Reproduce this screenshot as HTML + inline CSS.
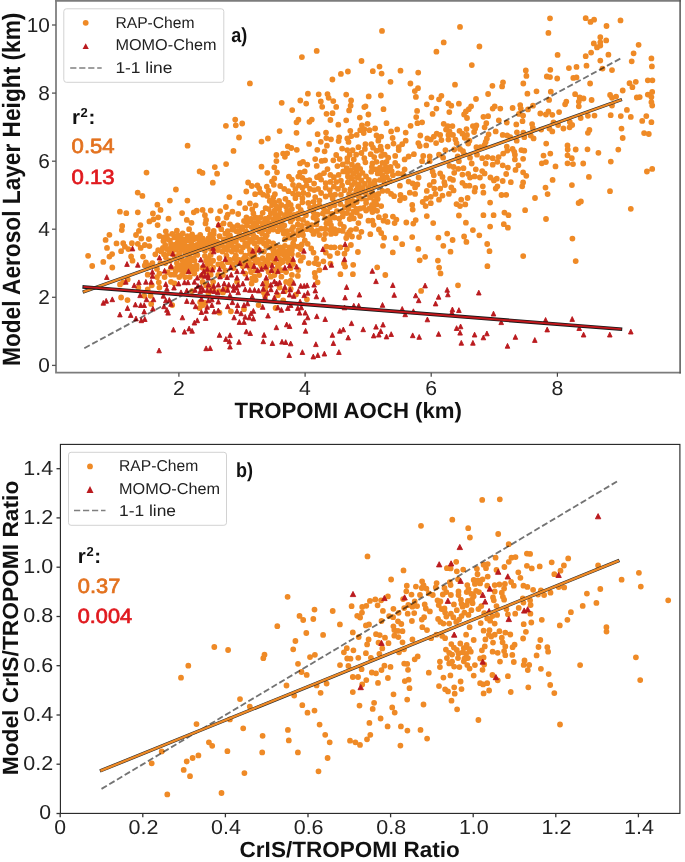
<!DOCTYPE html>
<html><head><meta charset="utf-8"><title>Scatter</title>
<style>html,body{margin:0;padding:0;background:#fff}svg{display:block;will-change:transform}text{text-rendering:geometricPrecision}text{font-family:"Liberation Sans",sans-serif}</style>
</head><body>
<svg width="685" height="862" viewBox="0 0 685 862">
<rect width="685" height="862" fill="#fff"/>
<g id="top">
<path d="M119.9 211.7h.01M126.3 213.2h.01M122.2 225.9h.01M121.8 230.1h.01M109.4 234.8h.01M105.6 239.9h.01M116.5 243.4h.01M123.2 243.2h.01M131.9 243.2h.01M124.9 246.7h.01M128.4 249.1h.01M107.0 247.9h.01M121.1 251.2h.01M112.1 254.1h.01M109.4 256.6h.01M88.1 255.8h.01M103.3 261.9h.01M131.1 256.4h.01M132.5 260.7h.01M92.2 266.0h.01M112.3 267.5h.01M157.4 204.7h.01M160.5 209.9h.01M137.8 212.3h.01M152.9 213.4h.01M158.2 217.3h.01M149.4 221.4h.01M153.5 219.3h.01M168.5 218.7h.01M182.1 213.1h.01M193.8 212.3h.01M196.7 210.7h.01M202.6 209.9h.01M210.7 210.5h.01M204.9 215.2h.01M186.8 219.9h.01M191.5 222.8h.01M206.1 219.9h.01M205.5 223.4h.01M140.4 225.1h.01M157.6 225.1h.01M138.9 230.9h.01M165.8 231.3h.01M176.9 230.6h.01M189.1 229.2h.01M207.8 229.2h.01M213.7 230.9h.01M159.4 236.0h.01M166.9 235.6h.01M172.2 233.9h.01M174.5 237.4h.01M182.7 233.3h.01M181.0 237.4h.01M187.4 236.2h.01M192.1 234.5h.01M200.2 234.8h.01M194.4 239.1h.01M196.7 237.4h.01M210.2 234.5h.01M213.7 233.9h.01M141.3 238.5h.01M148.8 239.1h.01M137.8 243.8h.01M144.8 245.0h.01M149.4 246.1h.01M140.7 247.9h.01M163.4 241.1h.01M169.9 240.3h.01M181.5 240.3h.01M188.6 240.3h.01M165.2 245.0h.01M171.0 243.8h.01M174.5 245.0h.01M181.0 245.5h.01M185.1 246.7h.01M191.5 243.8h.01M196.7 245.0h.01M201.4 243.8h.01M204.9 242.0h.01M210.7 240.3h.01M212.5 242.6h.01M207.2 246.7h.01M166.9 249.1h.01M175.7 249.6h.01M182.1 249.6h.01M187.4 250.2h.01M194.4 247.9h.01M199.6 249.1h.01M161.1 251.4h.01M155.3 254.3h.01M164.0 254.3h.01M169.3 253.1h.01M179.2 253.7h.01M185.1 253.1h.01M190.9 251.4h.01M143.0 256.6h.01M165.8 257.2h.01M174.5 256.1h.01M145.9 262.5h.01M152.4 263.1h.01M144.8 265.4h.01M160.5 263.1h.01M176.9 263.1h.01M182.7 260.7h.01M187.4 259.6h.01M189.7 261.9h.01M193.2 258.4h.01M197.3 254.9h.01M204.9 256.1h.01M208.4 258.4h.01M210.7 254.9h.01M176.9 267.7h.01M181.0 270.1h.01M184.5 266.6h.01M192.1 266.6h.01M196.7 268.9h.01M167.5 272.4h.01M174.5 274.7h.01M157.0 277.1h.01M164.6 277.1h.01M206.1 260.7h.01M210.7 263.1h.01M207.2 265.4h.01M213.1 267.7h.01M194.4 273.6h.01M201.4 275.9h.01M182.1 274.7h.01M210.7 274.7h.01M120.0 284.4h.01M123.2 282.3h.01M121.1 297.5h.01M127.5 300.1h.01M158.8 282.3h.01M159.4 287.6h.01M151.8 285.3h.01M138.3 287.6h.01M147.7 289.3h.01M171.0 281.8h.01M174.5 283.5h.01M144.2 295.8h.01M150.6 295.8h.01M151.2 303.9h.01M172.2 305.1h.01M200.2 302.2h.01M203.2 305.1h.01M199.6 308.0h.01M204.9 302.8h.01M192.1 291.1h.01M213.1 281.8h.01M210.7 287.0h.01M251.6 283.5h.01M266.2 281.8h.01M218.9 291.1h.01M265.1 288.8h.01M263.9 292.8h.01M277.9 295.2h.01M279.6 287.6h.01M289.6 283.5h.01M290.7 288.8h.01M230.9 311.3h.01M244.0 309.2h.01M258.6 305.1h.01M219.5 312.7h.01M275.6 308.0h.01M283.2 300.4h.01M237.0 281.8h.01M317.6 282.3h.01M306.9 299.3h.01M402.2 244.2h.01M487.2 244.0h.01M383.0 245.8h.01M392.8 252.4h.01M418.3 248.9h.01M443.3 245.8h.01M450.5 251.7h.01M489.5 251.2h.01M425.1 256.8h.01M419.7 260.3h.01M437.9 260.6h.01M523.2 256.1h.01M439.1 267.6h.01M487.4 266.2h.01M385.3 275.0h.01M440.5 273.4h.01M458.0 285.3h.01M421.1 290.9h.01M546.0 219.0h.01M572.4 238.6h.01M575.7 261.1h.01M590.5 21.9h.01M594.1 19.7h.01M620.5 20.4h.01M606.5 26.0h.01M600.3 37.2h.01M606.2 40.4h.01M593.8 43.4h.01M600.3 42.3h.01M600.3 45.5h.01M597.0 47.4h.01M638.6 44.8h.01M591.1 52.6h.01M608.4 54.7h.01M633.6 53.3h.01M600.3 60.6h.01M631.7 61.3h.01M651.4 58.4h.01M602.5 68.6h.01M612.0 70.1h.01M651.9 66.4h.01M590.1 83.5h.01M647.8 80.3h.01M652.4 80.3h.01M629.5 83.2h.01M635.8 81.8h.01M632.4 87.2h.01M622.7 90.5h.01M652.2 92.0h.01M647.8 94.6h.01M651.4 97.1h.01M610.1 94.9h.01M612.0 97.8h.01M616.1 96.6h.01M636.8 97.5h.01M639.7 97.1h.01M651.4 102.2h.01M652.2 105.5h.01M612.0 105.5h.01M626.9 109.9h.01M587.9 115.8h.01M594.5 115.6h.01M610.7 115.2h.01M620.8 116.1h.01M630.8 116.9h.01M646.3 116.1h.01M642.2 120.9h.01M651.4 122.2h.01M589.4 129.9h.01M587.9 132.8h.01M621.5 128.6h.01M644.1 133.1h.01M648.8 134.0h.01M622.7 138.0h.01M587.5 149.3h.01M598.4 152.8h.01M618.3 149.6h.01M610.8 161.6h.01M652.2 168.9h.01M646.9 171.5h.01M588.9 176.9h.01M610.0 191.2h.01M550.0 18.3h.01M548.4 32.9h.01M557.6 54.9h.01M525.8 70.4h.01M526.4 75.9h.01M550.3 69.8h.01M568.9 68.1h.01M576.5 66.9h.01M546.8 76.5h.01M550.0 77.1h.01M557.2 78.5h.01M573.3 77.9h.01M576.5 77.4h.01M523.3 83.5h.01M536.5 91.3h.01M527.4 93.7h.01M550.8 91.7h.01M549.1 99.9h.01M575.1 94.2h.01M579.7 97.5h.01M583.5 98.5h.01M566.3 101.6h.01M565.1 104.3h.01M578.8 101.6h.01M578.8 106.3h.01M520.2 105.1h.01M520.8 108.6h.01M512.6 108.0h.01M533.0 105.7h.01M528.0 109.4h.01M540.3 113.5h.01M548.4 111.5h.01M545.9 114.5h.01M552.3 114.8h.01M559.1 112.1h.01M519.0 113.9h.01M523.1 115.6h.01M522.5 121.2h.01M516.3 124.4h.01M506.8 122.6h.01M532.1 124.1h.01M532.8 127.9h.01M553.5 122.3h.01M558.1 125.0h.01M549.4 128.5h.01M552.3 131.4h.01M563.4 128.5h.01M541.2 129.6h.01M569.8 122.0h.01M572.2 125.0h.01M569.6 127.3h.01M580.7 118.0h.01M516.9 132.3h.01M523.3 132.6h.01M507.3 135.5h.01M510.3 137.2h.01M524.3 137.2h.01M530.7 135.5h.01M533.6 138.4h.01M516.7 140.7h.01M546.2 143.6h.01M567.5 145.4h.01M567.7 149.5h.01M575.7 149.5h.01M506.8 146.6h.01M507.3 150.7h.01M512.6 148.9h.01M514.3 151.8h.01M514.9 154.7h.01M521.4 150.1h.01M524.3 150.7h.01M543.5 155.6h.01M550.3 153.6h.01M567.5 155.3h.01M571.8 158.2h.01M507.9 167.6h.01M518.4 165.3h.01M515.5 169.9h.01M523.1 172.3h.01M526.3 175.8h.01M541.8 163.3h.01M545.9 162.1h.01M555.5 166.4h.01M567.5 163.3h.01M573.0 164.1h.01M583.2 163.5h.01M510.8 182.2h.01M523.1 182.5h.01M522.2 186.3h.01M552.6 179.9h.01M545.5 187.6h.01M571.9 185.1h.01M547.6 194.1h.01M535.0 198.0h.01M580.9 201.5h.01M578.6 203.0h.01M525.1 210.2h.01M508.5 215.2h.01M507.9 227.7h.01M460.0 26.9h.01M443.7 42.4h.01M436.4 51.7h.01M479.4 46.5h.01M471.8 65.1h.01M455.0 84.7h.01M492.4 85.8h.01M503.0 82.3h.01M502.1 86.4h.01M488.1 94.0h.01M431.4 97.3h.01M441.4 95.8h.01M439.0 99.3h.01M476.0 99.0h.01M426.8 104.3h.01M448.4 103.4h.01M451.3 105.7h.01M458.9 103.7h.01M471.1 106.3h.01M436.4 108.6h.01M432.6 113.9h.01M449.3 112.1h.01M468.8 109.2h.01M465.9 111.5h.01M464.1 114.5h.01M467.0 118.0h.01M494.7 106.3h.01M492.7 108.6h.01M500.3 108.6h.01M483.4 116.8h.01M488.1 116.2h.01M498.8 120.3h.01M486.3 123.2h.01M484.6 127.3h.01M443.7 123.8h.01M447.8 126.1h.01M452.4 126.1h.01M472.9 126.1h.01M476.4 125.5h.01M475.2 128.5h.01M466.5 129.1h.01M446.0 129.6h.01M449.5 131.4h.01M459.5 130.8h.01M462.4 133.7h.01M467.0 134.9h.01M464.7 137.8h.01M474.1 132.0h.01M495.7 131.4h.01M488.6 134.3h.01M502.7 134.9h.01M436.7 133.7h.01M440.2 134.9h.01M433.8 136.6h.01M427.3 138.4h.01M430.8 139.6h.01M441.4 140.1h.01M436.1 143.1h.01M448.4 134.9h.01M453.0 134.9h.01M448.4 139.6h.01M455.4 139.6h.01M456.5 143.1h.01M469.4 140.7h.01M468.2 143.6h.01M486.9 138.4h.01M485.7 141.9h.01M484.6 144.8h.01M476.4 147.2h.01M480.5 147.2h.01M445.4 150.1h.01M454.2 149.5h.01M460.0 148.9h.01M463.0 151.2h.01M429.7 156.5h.01M439.0 154.7h.01M443.1 157.7h.01M457.7 156.5h.01M464.1 154.2h.01M470.0 157.7h.01M477.0 154.7h.01M482.2 158.2h.01M487.5 157.1h.01M492.7 158.2h.01M498.6 157.1h.01M503.2 153.6h.01M471.7 163.5h.01M485.7 163.5h.01M492.7 164.7h.01M497.4 161.8h.01M502.7 165.3h.01M449.5 165.8h.01M453.6 167.0h.01M458.3 168.8h.01M463.5 168.2h.01M475.8 169.3h.01M482.2 171.1h.01M484.6 173.4h.01M432.6 171.7h.01M433.8 175.2h.01M440.2 173.4h.01M442.5 176.9h.01M454.2 172.8h.01M462.4 174.6h.01M468.2 174.0h.01M470.0 177.5h.01M474.6 176.4h.01M479.9 177.5h.01M490.4 177.5h.01M493.9 180.4h.01M496.8 178.7h.01M502.7 181.0h.01M450.1 178.7h.01M453.0 179.9h.01M433.8 181.6h.01M429.7 185.1h.01M444.3 182.2h.01M444.9 185.1h.01M462.4 182.8h.01M465.3 185.7h.01M469.4 185.7h.01M475.2 188.0h.01M474.6 191.5h.01M482.8 186.3h.01M483.4 192.7h.01M497.4 186.3h.01M495.7 188.6h.01M426.8 190.9h.01M434.3 188.6h.01M440.2 188.6h.01M451.3 187.4h.01M453.6 190.4h.01M448.9 193.9h.01M442.5 195.6h.01M435.5 193.9h.01M439.0 199.7h.01M430.8 196.8h.01M430.8 203.2h.01M501.5 195.0h.01M461.2 199.7h.01M467.6 198.0h.01M456.5 204.1h.01M460.0 206.1h.01M465.3 204.4h.01M490.1 202.6h.01M458.9 215.5h.01M426.8 216.1h.01M483.4 215.2h.01M493.6 215.2h.01M433.2 223.1h.01M465.9 222.7h.01M490.1 226.6h.01M472.9 230.1h.01M447.2 233.6h.01M479.3 235.3h.01M438.4 237.7h.01M464.1 236.5h.01M382.0 30.9h.01M361.5 61.0h.01M379.5 66.6h.01M347.9 71.5h.01M372.8 71.2h.01M381.6 73.6h.01M400.5 70.7h.01M418.2 72.6h.01M390.5 81.8h.01M410.4 83.5h.01M418.0 88.2h.01M414.8 91.1h.01M415.9 96.9h.01M368.7 96.4h.01M380.9 95.5h.01M351.1 100.4h.01M350.6 105.7h.01M349.1 110.4h.01M364.3 107.1h.01M383.5 109.2h.01M368.4 114.5h.01M359.8 117.6h.01M417.1 110.9h.01M416.2 117.1h.01M367.5 123.8h.01M361.9 125.5h.01M386.5 123.2h.01M417.4 123.2h.01M422.1 122.3h.01M410.6 125.8h.01M350.3 130.8h.01M360.2 130.2h.01M364.3 129.1h.01M369.5 130.2h.01M375.1 128.5h.01M391.1 131.4h.01M397.2 129.4h.01M405.7 132.6h.01M420.3 135.5h.01M363.7 133.1h.01M356.7 134.9h.01M351.4 136.1h.01M347.3 138.4h.01M348.5 141.9h.01M376.5 135.5h.01M381.2 136.6h.01M378.3 140.7h.01M392.6 138.0h.01M393.5 143.6h.01M405.7 140.7h.01M402.2 144.2h.01M398.7 147.2h.01M387.6 146.6h.01M418.3 143.1h.01M419.7 146.0h.01M365.4 144.2h.01M371.3 144.2h.01M358.4 147.2h.01M352.6 150.1h.01M347.3 150.1h.01M364.9 148.9h.01M373.0 147.7h.01M376.5 150.7h.01M380.6 146.6h.01M381.2 150.1h.01M370.7 154.2h.01M349.7 154.7h.01M356.1 154.7h.01M361.4 153.0h.01M374.2 157.1h.01M381.2 155.9h.01M384.7 154.7h.01M388.2 157.7h.01M395.2 155.9h.01M398.7 150.1h.01M413.9 154.2h.01M408.6 156.5h.01M423.2 155.9h.01M364.3 158.2h.01M347.3 158.2h.01M347.3 161.8h.01M352.0 164.7h.01M357.8 165.3h.01M365.4 162.3h.01M372.4 163.5h.01M376.5 161.8h.01M382.4 162.9h.01M386.5 161.8h.01M395.2 162.9h.01M397.6 165.8h.01M346.8 168.2h.01M350.3 170.5h.01M356.1 171.1h.01M362.5 172.8h.01M371.9 167.0h.01M375.9 169.3h.01M380.0 167.6h.01M385.9 167.0h.01M404.6 169.3h.01M377.7 173.4h.01M382.4 175.2h.01M387.0 171.7h.01M392.9 175.2h.01M398.1 173.4h.01M402.8 174.0h.01M347.9 176.4h.01M352.0 178.7h.01M357.3 177.5h.01M361.4 180.4h.01M368.9 179.9h.01M354.9 182.8h.01M364.9 183.9h.01M383.5 179.3h.01M390.0 181.0h.01M387.0 177.5h.01M408.6 181.6h.01M412.7 183.4h.01M417.4 184.5h.01M415.1 187.4h.01M399.9 185.7h.01M418.6 177.5h.01M350.3 189.2h.01M357.8 187.4h.01M362.5 188.0h.01M368.4 188.0h.01M374.8 185.1h.01M371.9 192.1h.01M382.4 190.9h.01M387.6 190.9h.01M391.1 193.9h.01M394.1 196.2h.01M349.1 193.9h.01M353.8 195.0h.01M409.8 192.7h.01M415.1 193.9h.01M400.5 195.0h.01M404.6 198.0h.01M399.9 200.3h.01M347.9 199.1h.01M352.6 200.9h.01M361.4 198.5h.01M366.0 200.3h.01M370.1 197.4h.01M374.2 200.9h.01M377.7 199.1h.01M371.9 205.0h.01M381.2 206.1h.01M369.5 208.5h.01M373.6 207.9h.01M377.1 210.8h.01M372.4 212.0h.01M353.2 205.0h.01M360.2 208.5h.01M363.7 207.9h.01M348.5 209.1h.01M412.2 205.0h.01M412.7 209.6h.01M422.7 202.0h.01M346.8 213.1h.01M351.4 214.9h.01M356.7 212.6h.01M360.2 216.1h.01M349.7 219.0h.01M353.8 218.4h.01M378.9 217.2h.01M385.3 216.1h.01M392.9 216.6h.01M396.4 219.6h.01M383.5 220.7h.01M387.6 221.9h.01M394.6 223.1h.01M368.4 220.7h.01M372.4 220.7h.01M373.6 224.8h.01M358.4 223.1h.01M406.3 222.5h.01M415.7 220.1h.01M413.3 223.6h.01M350.8 230.1h.01M356.1 228.9h.01M361.4 231.8h.01M347.3 234.7h.01M352.0 236.5h.01M359.0 237.1h.01M370.3 234.2h.01M378.9 229.5h.01M381.2 233.0h.01M384.1 237.7h.01M395.8 238.2h.01M412.2 237.1h.01M302.4 202.3h.01M308.3 202.9h.01M313.5 201.8h.01M347.4 202.3h.01M366.1 202.9h.01M298.3 206.4h.01M300.7 209.9h.01M310.0 207.6h.01M314.7 206.4h.01M319.4 205.3h.01M324.0 208.8h.01M329.9 207.0h.01M334.5 205.3h.01M340.4 204.1h.01M345.1 207.0h.01M356.7 208.8h.01M366.1 210.5h.01M297.8 214.0h.01M302.4 212.8h.01M305.9 215.2h.01M313.5 212.3h.01M317.6 214.6h.01M322.9 213.4h.01M327.5 211.7h.01M332.2 214.0h.01M336.9 211.1h.01M342.1 211.7h.01M298.3 218.7h.01M303.0 219.9h.01M313.5 217.5h.01M317.0 219.9h.01M325.2 218.1h.01M329.9 217.5h.01M334.5 217.5h.01M339.2 218.7h.01M342.7 216.4h.01M297.8 224.5h.01M301.8 225.7h.01M307.1 223.4h.01M311.8 225.1h.01M316.4 224.5h.01M326.4 223.4h.01M331.0 225.1h.01M329.9 221.6h.01M340.4 223.9h.01M343.9 226.9h.01M298.3 230.4h.01M302.4 230.9h.01M307.1 229.2h.01M311.8 230.4h.01M317.0 230.9h.01M321.1 228.6h.01M325.2 228.6h.01M329.9 229.8h.01M334.5 229.2h.01M338.6 230.4h.01M342.7 230.9h.01M349.1 232.1h.01M298.3 235.0h.01M303.0 235.0h.01M313.5 233.9h.01M319.4 235.0h.01M325.2 233.9h.01M331.0 233.9h.01M335.7 233.3h.01M346.2 238.0h.01M304.8 240.3h.01M324.0 239.1h.01M301.8 244.4h.01M307.7 243.8h.01M298.3 246.7h.01M300.7 249.1h.01M311.2 248.5h.01M326.4 246.7h.01M331.0 247.3h.01M334.5 247.3h.01M340.4 247.3h.01M350.9 245.0h.01M346.8 249.1h.01M313.5 252.6h.01M325.8 252.6h.01M329.9 256.1h.01M337.5 253.1h.01M344.5 253.7h.01M357.9 252.0h.01M298.3 254.9h.01M303.0 257.2h.01M300.7 260.7h.01M308.8 263.1h.01M316.4 258.4h.01M314.7 263.1h.01M323.4 261.3h.01M318.2 264.2h.01M330.5 263.6h.01M343.9 263.6h.01M345.1 266.6h.01M353.2 264.8h.01M319.4 270.1h.01M314.7 273.0h.01M315.3 277.1h.01M298.3 270.1h.01M297.8 275.9h.01M340.4 274.2h.01M352.9 274.2h.01M239.4 202.9h.01M225.9 207.0h.01M220.1 211.1h.01M249.9 203.5h.01M245.2 208.2h.01M255.7 205.3h.01M252.2 209.3h.01M232.4 211.7h.01M238.2 214.0h.01M227.7 214.6h.01M226.5 217.5h.01M217.8 218.7h.01M223.6 223.4h.01M230.0 224.5h.01M221.3 229.2h.01M219.5 236.2h.01M265.6 208.2h.01M262.7 212.8h.01M253.4 213.4h.01M255.7 217.5h.01M244.0 221.0h.01M274.4 202.6h.01M288.4 202.6h.01M272.1 205.0h.01M276.7 206.7h.01M281.4 205.0h.01M286.1 206.7h.01M290.7 205.0h.01M268.6 209.1h.01M274.4 210.7h.01M279.1 209.1h.01M287.2 210.7h.01M291.9 209.1h.01M270.9 213.2h.01M275.6 214.8h.01M280.2 213.2h.01M284.9 214.8h.01M289.6 213.2h.01M294.2 214.8h.01M246.4 217.3h.01M251.0 218.9h.01M260.4 217.3h.01M265.1 218.9h.01M269.1 217.3h.01M273.8 218.9h.01M278.5 217.3h.01M283.2 218.9h.01M287.8 217.3h.01M292.5 218.9h.01M248.7 221.4h.01M253.4 223.0h.01M258.0 221.4h.01M262.7 223.0h.01M267.4 221.4h.01M272.1 223.0h.01M276.7 221.4h.01M281.4 223.0h.01M290.7 221.4h.01M218.9 225.5h.01M233.5 227.1h.01M237.6 225.5h.01M242.3 227.1h.01M246.9 225.5h.01M251.6 227.1h.01M256.3 225.5h.01M261.0 227.1h.01M265.6 225.5h.01M270.3 227.1h.01M275.0 225.5h.01M279.6 227.1h.01M284.3 225.5h.01M293.1 227.1h.01M227.7 231.2h.01M232.4 229.5h.01M236.4 231.2h.01M241.1 229.5h.01M245.8 231.2h.01M254.5 229.5h.01M259.2 231.2h.01M263.9 229.5h.01M268.6 231.2h.01M273.2 229.5h.01M277.9 231.2h.01M282.6 229.5h.01M287.2 231.2h.01M291.9 229.5h.01M225.3 233.6h.01M230.0 235.3h.01M239.4 233.6h.01M244.0 235.3h.01M248.7 233.6h.01M253.4 235.3h.01M262.1 233.6h.01M266.8 235.3h.01M283.7 233.6h.01M288.4 235.3h.01M293.1 233.6h.01M223.6 239.4h.01M228.3 237.7h.01M232.9 239.4h.01M237.6 237.7h.01M242.3 239.4h.01M246.9 237.7h.01M251.6 239.4h.01M256.3 237.7h.01M261.0 239.4h.01M265.6 237.7h.01M284.9 239.4h.01M289.6 237.7h.01M294.2 239.4h.01M221.8 243.4h.01M226.5 241.8h.01M231.2 243.4h.01M235.9 241.8h.01M245.2 243.4h.01M249.9 241.8h.01M254.5 243.4h.01M259.2 241.8h.01M263.9 243.4h.01M268.6 241.8h.01M273.2 243.4h.01M293.1 243.4h.01M219.5 245.9h.01M224.2 247.5h.01M228.8 245.9h.01M233.5 247.5h.01M238.2 245.9h.01M242.9 247.5h.01M247.5 245.9h.01M256.9 247.5h.01M266.2 245.9h.01M270.9 247.5h.01M275.6 245.9h.01M280.2 247.5h.01M284.9 245.9h.01M289.6 247.5h.01M294.2 245.9h.01M217.8 250.0h.01M222.4 251.6h.01M227.1 250.0h.01M231.8 251.6h.01M236.4 250.0h.01M241.1 251.6h.01M249.9 250.0h.01M254.5 251.6h.01M259.2 250.0h.01M263.9 251.6h.01M273.2 250.0h.01M277.9 251.6h.01M282.6 250.0h.01M287.2 251.6h.01M291.9 250.0h.01M226.5 255.7h.01M235.9 255.7h.01M245.2 255.7h.01M249.9 254.1h.01M254.5 255.7h.01M268.6 255.7h.01M273.2 254.1h.01M277.9 255.7h.01M282.6 254.1h.01M287.2 255.7h.01M291.9 254.1h.01M219.5 258.2h.01M230.0 259.8h.01M234.7 258.2h.01M239.4 259.8h.01M244.0 258.2h.01M248.7 259.8h.01M253.4 258.2h.01M258.0 259.8h.01M262.7 258.2h.01M267.4 259.8h.01M272.1 258.2h.01M280.8 259.8h.01M285.5 258.2h.01M290.2 259.8h.01M221.8 263.9h.01M227.7 262.2h.01M232.4 263.9h.01M237.0 262.2h.01M241.7 263.9h.01M246.4 262.2h.01M251.0 263.9h.01M255.7 262.2h.01M260.4 263.9h.01M265.1 262.2h.01M269.7 263.9h.01M274.4 262.2h.01M279.6 263.9h.01M288.4 262.2h.01M293.1 263.9h.01M223.0 266.3h.01M233.5 268.0h.01M242.9 266.3h.01M249.9 268.0h.01M261.5 266.3h.01M266.2 268.0h.01M277.9 266.3h.01M290.7 268.0h.01M225.3 270.4h.01M251.0 272.1h.01M255.7 270.4h.01M268.6 272.1h.01M274.4 270.4h.01M286.1 272.1h.01M223.0 275.1h.01M254.5 276.7h.01M259.2 275.1h.01M270.9 276.7h.01M274.4 275.1h.01M281.4 276.7h.01M296.5 122.3h.01M309.4 121.8h.01M338.3 124.7h.01M279.6 131.1h.01M296.5 132.8h.01M267.9 138.5h.01M317.6 134.2h.01M326.0 132.6h.01M326.3 138.1h.01M331.0 139.3h.01M320.8 141.8h.01M309.1 143.9h.01M339.2 137.5h.01M338.6 141.0h.01M287.8 146.3h.01M291.3 148.0h.01M296.8 149.8h.01M326.9 145.7h.01M317.3 149.8h.01M324.6 151.3h.01M283.1 153.6h.01M287.2 153.3h.01M284.9 156.8h.01M276.4 155.0h.01M276.4 161.1h.01M342.1 148.6h.01M336.2 155.0h.01M333.3 160.3h.01M339.7 159.1h.01M315.2 159.1h.01M321.6 160.9h.01M325.1 160.3h.01M300.0 163.4h.01M303.0 161.8h.01M307.3 164.6h.01M316.7 165.9h.01M337.4 166.1h.01M342.7 164.4h.01M274.3 167.3h.01M267.3 172.8h.01M277.0 172.3h.01M300.0 172.6h.01M304.7 171.4h.01M327.5 169.1h.01M324.0 173.1h.01M319.9 175.5h.01M330.4 174.9h.01M333.9 177.2h.01M338.6 174.9h.01M343.2 171.4h.01M288.9 176.6h.01M291.9 179.6h.01M298.3 176.6h.01M302.4 177.8h.01M305.9 180.7h.01M309.4 180.1h.01M317.0 177.2h.01M314.1 183.6h.01M321.1 179.6h.01M325.7 183.1h.01M330.4 181.9h.01M336.2 181.9h.01M340.9 180.7h.01M274.3 178.4h.01M272.0 181.3h.01M273.8 184.8h.01M266.8 186.6h.01M268.5 190.7h.01M280.2 186.0h.01M284.3 188.9h.01M288.4 191.2h.01M293.0 184.8h.01M295.4 188.9h.01M298.9 185.4h.01M302.4 187.7h.01M306.5 185.4h.01M310.0 188.9h.01M293.0 193.6h.01M298.3 194.2h.01M303.5 193.0h.01M308.2 194.7h.01M314.1 190.1h.01M318.1 188.9h.01M321.1 193.0h.01M325.7 187.7h.01M329.8 190.1h.01M333.9 186.6h.01M338.0 188.9h.01M342.1 185.4h.01M274.9 194.2h.01M273.2 197.7h.01M267.3 195.9h.01M295.4 198.2h.01M302.4 198.2h.01M315.2 197.1h.01M325.7 196.5h.01M330.4 194.7h.01M335.1 194.7h.01M340.9 194.7h.01M242.2 123.5h.01M235.8 125.3h.01M225.9 125.8h.01M239.0 137.5h.01M261.5 141.6h.01M187.6 145.7h.01M233.5 150.9h.01M226.1 164.1h.01M214.8 167.1h.01M199.6 171.4h.01M202.5 172.9h.01M217.1 173.7h.01M261.5 166.7h.01M212.8 182.7h.01M248.1 182.5h.01M251.8 186.0h.01M257.4 185.4h.01M259.2 188.3h.01M246.3 191.5h.01M255.1 194.2h.01M260.3 192.4h.01M263.2 194.7h.01M229.4 197.1h.01M146.5 172.6h.01M137.7 192.6h.01M142.4 195.9h.01M175.9 189.5h.01M316.7 50.9h.01M301.9 57.1h.01M340.9 73.9h.01M332.4 79.5h.01M307.9 93.7h.01M318.7 94.3h.01M327.5 94.1h.01M328.6 97.8h.01M300.3 100.5h.01M281.7 102.8h.01M306.2 103.6h.01M320.8 101.5h.01M333.3 101.1h.01M322.2 106.8h.01M336.2 106.9h.01M292.2 110.1h.01M326.5 113.8h.01M332.5 113.2h.01M249.9 83.4h.01M235.2 119.6h.01M218.3 264.3h.01M218.3 274.9h.01M252.2 278.4h.01M255.7 280.1h.01M267.4 285.4h.01M281.4 270.2h.01M291.9 274.9h.01M290.7 280.7h.01M286.1 281.9h.01M284.9 291.2h.01M265.1 295.9h.01M223.0 292.4h.01M226.5 288.9h.01M282.6 262.0h.01M245.2 273.7h.01M206.1 285.4h.01M202.6 281.9h.01M208.4 293.5h.01M213.1 290.0h.01M163.4 237.4h.01M167.5 239.1h.01M177.5 235.0h.01M178.6 238.5h.01M185.1 239.7h.01M184.5 243.2h.01M177.5 242.6h.01M171.0 246.7h.01M178.0 247.9h.01M190.9 238.5h.01M199.1 239.7h.01M202.6 238.5h.01M199.6 246.1h.01M204.3 246.7h.01M208.4 238.5h.01M208.4 243.2h.01M213.1 238.5h.01M214.2 246.7h.01M210.7 249.1h.01M204.9 250.8h.01M192.1 249.1h.01M188.6 246.7h.01M172.2 251.4h.01M162.9 247.9h.01M158.2 250.2h.01M194.4 252.6h.01M180.4 258.4h.01M185.1 263.1h.01M189.7 257.2h.01M194.4 260.7h.01M196.7 265.4h.01M188.6 266.6h.01M181.5 265.4h.01M186.2 271.2h.01M192.1 271.2h.01M175.7 271.2h.01M171.0 274.7h.01M179.2 277.1h.01M210.7 270.1h.01M206.1 271.2h.01M202.6 267.7h.01M213.1 260.7h.01M169.9 260.7h.01M165.2 263.1h.01M171.0 267.7h.01M150.0 265.4h.01M157.0 268.9h.01M159.4 273.6h.01M147.7 274.7h.01M185.1 277.1h.01M189.7 277.1h.01M354.9 168.2h.01M347.3 172.3h.01M360.2 168.8h.01M353.2 174.0h.01M359.0 175.2h.01M366.0 176.4h.01M371.3 171.7h.01M380.0 171.7h.01M384.1 169.3h.01M390.5 167.0h.01M391.7 171.1h.01M384.7 183.4h.01M380.0 179.9h.01M374.8 181.0h.01M370.7 183.9h.01M359.0 184.5h.01M352.0 185.1h.01M347.9 182.2h.01M356.1 190.4h.01M361.4 192.1h.01M366.0 193.9h.01M374.2 195.0h.01M378.3 193.9h.01M358.4 196.2h.01M356.7 202.0h.01M350.3 205.0h.01M376.5 204.4h.01M353.8 211.4h.01M136.0 235.0h.01M169.9 200.6h.01M187.4 200.6h.01M296.0 294.6h.01M452.6 240.0h.01M466.4 241.9h.01M377.2 267.3h.01M585.7 18.2h.01M585.7 56.2h.01M586.5 65.7h.01M591.6 100.0h.01M630.8 208.8h.01M514.9 159.4h.01M523.1 158.8h.01M506.2 174.0h.01M506.2 194.8h.01M426.2 145.4h.01M429.7 161.2h.01M458.9 161.2h.01M426.2 198.5h.01M425.6 206.1h.01M504.4 212.6h.01M503.8 224.2h.01M346.2 94.6h.01M346.2 120.3h.01M404.6 159.4h.01M353.8 159.4h.01M422.1 161.2h.01M319.4 200.6h.01M269.7 200.9h.01M279.1 200.9h.01M217.2 241.8h.01M330.4 120.0h.01M344.4 190.1h.01M285.4 198.8h.01M332.7 198.8h.01M127.7 279.4h.01M298.4 119.7h.01M311.8 119.6h.01M365.5 106.3h.01" stroke="#ef8a26" stroke-width="5.8" stroke-linecap="round" fill="none"/>
<path d="M132.5 246.1l2.30 4.80h-4.60zM127.0 261.6l2.30 4.80h-4.60zM106.8 274.7l2.30 4.80h-4.60zM172.8 251.3l2.30 4.80h-4.60zM159.4 255.2l2.30 4.80h-4.60zM137.8 262.4l2.30 4.80h-4.60zM171.0 263.6l2.30 4.80h-4.60zM164.6 268.3l2.30 4.80h-4.60zM152.4 269.4l2.30 4.80h-4.60zM152.4 273.5l2.30 4.80h-4.60zM188.6 268.8l2.30 4.80h-4.60zM200.8 257.2l2.30 4.80h-4.60zM203.2 262.4l2.30 4.80h-4.60zM213.7 249.0l2.30 4.80h-4.60zM213.1 245.5l2.30 4.80h-4.60zM203.7 268.8l2.30 4.80h-4.60zM207.2 266.5l2.30 4.80h-4.60zM201.4 272.3l2.30 4.80h-4.60zM197.3 275.3l2.30 4.80h-4.60zM204.9 273.5l2.30 4.80h-4.60zM208.4 275.3l2.30 4.80h-4.60zM125.8 279.4l2.30 4.80h-4.60zM134.2 282.9l2.30 4.80h-4.60zM103.3 300.4l2.30 4.80h-4.60zM106.2 298.4l2.30 4.80h-4.60zM112.3 296.9l2.30 4.80h-4.60zM127.5 305.6l2.30 4.80h-4.60zM119.9 312.1l2.30 4.80h-4.60zM130.7 312.6l2.30 4.80h-4.60zM138.9 279.9l2.30 4.80h-4.60zM145.9 279.4l2.30 4.80h-4.60zM151.2 279.4l2.30 4.80h-4.60zM165.8 281.7l2.30 4.80h-4.60zM166.9 286.4l2.30 4.80h-4.60zM174.0 285.2l2.30 4.80h-4.60zM178.6 281.1l2.30 4.80h-4.60zM184.5 279.9l2.30 4.80h-4.60zM188.0 279.9l2.30 4.80h-4.60zM194.4 279.4l2.30 4.80h-4.60zM186.8 288.1l2.30 4.80h-4.60zM181.0 289.9l2.30 4.80h-4.60zM195.0 287.5l2.30 4.80h-4.60zM200.2 288.7l2.30 4.80h-4.60zM201.4 284.6l2.30 4.80h-4.60zM208.4 282.3l2.30 4.80h-4.60zM210.7 288.1l2.30 4.80h-4.60zM214.2 288.7l2.30 4.80h-4.60zM140.1 292.8l2.30 4.80h-4.60zM146.5 296.9l2.30 4.80h-4.60zM153.5 296.9l2.30 4.80h-4.60zM163.4 293.4l2.30 4.80h-4.60zM165.8 298.0l2.30 4.80h-4.60zM169.3 297.5l2.30 4.80h-4.60zM140.7 302.7l2.30 4.80h-4.60zM144.2 302.7l2.30 4.80h-4.60zM171.0 301.5l2.30 4.80h-4.60zM152.9 306.2l2.30 4.80h-4.60zM144.2 309.1l2.30 4.80h-4.60zM164.0 303.9l2.30 4.80h-4.60zM166.9 307.4l2.30 4.80h-4.60zM168.1 310.3l2.30 4.80h-4.60zM186.8 298.6l2.30 4.80h-4.60zM192.6 299.2l2.30 4.80h-4.60zM195.6 303.9l2.30 4.80h-4.60zM208.4 298.0l2.30 4.80h-4.60zM211.9 302.7l2.30 4.80h-4.60zM207.2 304.5l2.30 4.80h-4.60zM206.1 308.5l2.30 4.80h-4.60zM201.4 309.7l2.30 4.80h-4.60zM214.2 309.1l2.30 4.80h-4.60zM141.3 317.9l2.30 4.80h-4.60zM144.8 316.7l2.30 4.80h-4.60zM182.4 315.0l2.30 4.80h-4.60zM205.7 315.6l2.30 4.80h-4.60zM197.3 317.9l2.30 4.80h-4.60zM194.4 320.2l2.30 4.80h-4.60zM173.4 327.2l2.30 4.80h-4.60zM184.5 329.3l2.30 4.80h-4.60zM189.1 326.1l2.30 4.80h-4.60zM192.1 328.4l2.30 4.80h-4.60zM159.1 348.0l2.30 4.80h-4.60zM206.1 345.9l2.30 4.80h-4.60zM210.2 345.7l2.30 4.80h-4.60zM218.3 282.3l2.30 4.80h-4.60zM224.2 281.1l2.30 4.80h-4.60zM228.8 282.3l2.30 4.80h-4.60zM233.5 283.4l2.30 4.80h-4.60zM238.2 282.3l2.30 4.80h-4.60zM242.9 281.1l2.30 4.80h-4.60zM223.0 286.4l2.30 4.80h-4.60zM227.7 287.5l2.30 4.80h-4.60zM233.5 287.5l2.30 4.80h-4.60zM238.2 289.9l2.30 4.80h-4.60zM245.2 286.9l2.30 4.80h-4.60zM249.9 287.5l2.30 4.80h-4.60zM254.5 287.5l2.30 4.80h-4.60zM258.6 288.1l2.30 4.80h-4.60zM262.7 281.1l2.30 4.80h-4.60zM263.3 286.4l2.30 4.80h-4.60zM270.9 282.3l2.30 4.80h-4.60zM276.7 281.1l2.30 4.80h-4.60zM279.6 279.9l2.30 4.80h-4.60zM284.9 284.6l2.30 4.80h-4.60zM293.7 280.5l2.30 4.80h-4.60zM270.9 286.9l2.30 4.80h-4.60zM276.7 289.3l2.30 4.80h-4.60zM267.4 290.4l2.30 4.80h-4.60zM283.2 288.7l2.30 4.80h-4.60zM289.6 292.2l2.30 4.80h-4.60zM274.4 295.1l2.30 4.80h-4.60zM230.0 292.8l2.30 4.80h-4.60zM252.2 294.0l2.30 4.80h-4.60zM218.3 299.2l2.30 4.80h-4.60zM227.7 303.9l2.30 4.80h-4.60zM232.4 299.8l2.30 4.80h-4.60zM237.6 302.7l2.30 4.80h-4.60zM244.0 302.7l2.30 4.80h-4.60zM247.5 301.0l2.30 4.80h-4.60zM262.7 304.5l2.30 4.80h-4.60zM218.3 308.0l2.30 4.80h-4.60zM237.0 308.5l2.30 4.80h-4.60zM241.1 310.9l2.30 4.80h-4.60zM234.1 315.0l2.30 4.80h-4.60zM239.4 319.6l2.30 4.80h-4.60zM244.0 319.6l2.30 4.80h-4.60zM245.2 314.4l2.30 4.80h-4.60zM251.0 310.9l2.30 4.80h-4.60zM253.4 308.5l2.30 4.80h-4.60zM253.4 316.1l2.30 4.80h-4.60zM249.3 315.0l2.30 4.80h-4.60zM268.0 313.2l2.30 4.80h-4.60zM277.9 305.0l2.30 4.80h-4.60zM281.4 307.4l2.30 4.80h-4.60zM287.8 305.6l2.30 4.80h-4.60zM290.7 302.7l2.30 4.80h-4.60zM276.4 324.9l2.30 4.80h-4.60zM286.7 322.0l2.30 4.80h-4.60zM289.6 323.7l2.30 4.80h-4.60zM246.4 329.0l2.30 4.80h-4.60zM250.2 330.7l2.30 4.80h-4.60zM219.5 332.5l2.30 4.80h-4.60zM230.0 332.8l2.30 4.80h-4.60zM225.9 336.6l2.30 4.80h-4.60zM229.4 338.9l2.30 4.80h-4.60zM230.0 344.2l2.30 4.80h-4.60zM239.0 339.5l2.30 4.80h-4.60zM264.1 332.5l2.30 4.80h-4.60zM263.3 338.9l2.30 4.80h-4.60zM272.4 340.7l2.30 4.80h-4.60zM282.0 339.3l2.30 4.80h-4.60zM285.7 339.7l2.30 4.80h-4.60zM290.7 341.0l2.30 4.80h-4.60zM289.2 352.7l2.30 4.80h-4.60zM300.7 283.4l2.30 4.80h-4.60zM304.2 283.4l2.30 4.80h-4.60zM307.1 282.9l2.30 4.80h-4.60zM314.1 282.3l2.30 4.80h-4.60zM298.3 288.7l2.30 4.80h-4.60zM307.7 290.4l2.30 4.80h-4.60zM315.3 288.1l2.30 4.80h-4.60zM304.2 292.8l2.30 4.80h-4.60zM316.4 294.0l2.30 4.80h-4.60zM323.4 296.9l2.30 4.80h-4.60zM300.1 299.2l2.30 4.80h-4.60zM346.6 284.6l2.30 4.80h-4.60zM359.4 292.2l2.30 4.80h-4.60zM345.1 295.1l2.30 4.80h-4.60zM344.5 305.0l2.30 4.80h-4.60zM353.8 303.3l2.30 4.80h-4.60zM358.7 303.3l2.30 4.80h-4.60zM297.8 305.6l2.30 4.80h-4.60zM301.3 305.0l2.30 4.80h-4.60zM299.5 310.3l2.30 4.80h-4.60zM305.3 310.3l2.30 4.80h-4.60zM307.7 315.0l2.30 4.80h-4.60zM316.8 313.8l2.30 4.80h-4.60zM325.2 316.7l2.30 4.80h-4.60zM304.4 319.6l2.30 4.80h-4.60zM351.5 320.8l2.30 4.80h-4.60zM305.6 328.4l2.30 4.80h-4.60zM339.8 328.4l2.30 4.80h-4.60zM343.3 327.0l2.30 4.80h-4.60zM363.2 326.9l2.30 4.80h-4.60zM373.7 333.1l2.30 4.80h-4.60zM332.4 332.5l2.30 4.80h-4.60zM348.2 335.1l2.30 4.80h-4.60zM333.4 340.7l2.30 4.80h-4.60zM315.9 341.8l2.30 4.80h-4.60zM302.4 349.7l2.30 4.80h-4.60zM313.3 354.1l2.30 4.80h-4.60zM317.8 352.7l2.30 4.80h-4.60zM324.4 351.2l2.30 4.80h-4.60zM338.9 349.7l2.30 4.80h-4.60zM392.8 282.7l2.30 4.80h-4.60zM425.1 283.1l2.30 4.80h-4.60zM394.2 292.5l2.30 4.80h-4.60zM415.7 293.0l2.30 4.80h-4.60zM418.7 297.9l2.30 4.80h-4.60zM447.2 287.4l2.30 4.80h-4.60zM447.9 292.0l2.30 4.80h-4.60zM438.6 294.4l2.30 4.80h-4.60zM435.6 301.1l2.30 4.80h-4.60zM478.8 290.2l2.30 4.80h-4.60zM382.5 302.5l2.30 4.80h-4.60zM402.2 306.5l2.30 4.80h-4.60zM405.2 311.9l2.30 4.80h-4.60zM413.4 308.8l2.30 4.80h-4.60zM427.4 317.0l2.30 4.80h-4.60zM452.4 307.0l2.30 4.80h-4.60zM458.9 307.7l2.30 4.80h-4.60zM451.9 310.0l2.30 4.80h-4.60zM493.5 311.2l2.30 4.80h-4.60zM501.2 319.8l2.30 4.80h-4.60zM383.0 322.2l2.30 4.80h-4.60zM380.7 328.7l2.30 4.80h-4.60zM378.8 332.2l2.30 4.80h-4.60zM386.5 334.1l2.30 4.80h-4.60zM391.2 331.7l2.30 4.80h-4.60zM412.7 332.9l2.30 4.80h-4.60zM419.2 334.5l2.30 4.80h-4.60zM438.6 331.5l2.30 4.80h-4.60zM456.6 325.7l2.30 4.80h-4.60zM460.6 324.0l2.30 4.80h-4.60zM460.1 330.3l2.30 4.80h-4.60zM461.3 340.4l2.30 4.80h-4.60zM474.6 332.2l2.30 4.80h-4.60zM472.9 340.4l2.30 4.80h-4.60zM486.9 331.0l2.30 4.80h-4.60zM483.4 335.0l2.30 4.80h-4.60zM507.5 343.4l2.30 4.80h-4.60zM515.4 334.5l2.30 4.80h-4.60zM545.6 317.5l2.30 4.80h-4.60zM572.2 316.6l2.30 4.80h-4.60zM547.2 327.1l2.30 4.80h-4.60zM579.2 325.7l2.30 4.80h-4.60zM583.6 332.2l2.30 4.80h-4.60zM609.8 332.2l2.30 4.80h-4.60zM630.8 329.2l2.30 4.80h-4.60zM534.8 337.6l2.30 4.80h-4.60zM303.9 248.4l2.30 4.80h-4.60zM322.9 246.7l2.30 4.80h-4.60zM345.1 241.7l2.30 4.80h-4.60zM344.5 256.8l2.30 4.80h-4.60zM331.4 262.4l2.30 4.80h-4.60zM325.2 264.8l2.30 4.80h-4.60zM372.3 268.5l2.30 4.80h-4.60zM218.3 222.1l2.30 4.80h-4.60zM225.3 256.6l2.30 4.80h-4.60zM239.9 260.7l2.30 4.80h-4.60zM230.6 264.8l2.30 4.80h-4.60zM219.5 266.5l2.30 4.80h-4.60zM246.9 263.0l2.30 4.80h-4.60zM237.0 268.8l2.30 4.80h-4.60zM242.9 268.8l2.30 4.80h-4.60zM231.2 272.3l2.30 4.80h-4.60zM220.1 274.1l2.30 4.80h-4.60zM227.1 274.7l2.30 4.80h-4.60zM237.0 275.3l2.30 4.80h-4.60zM246.9 275.3l2.30 4.80h-4.60zM252.8 248.4l2.30 4.80h-4.60zM259.4 247.2l2.30 4.80h-4.60zM254.0 263.6l2.30 4.80h-4.60zM257.5 267.7l2.30 4.80h-4.60zM261.5 266.5l2.30 4.80h-4.60zM265.6 264.2l2.30 4.80h-4.60zM272.1 263.0l2.30 4.80h-4.60zM271.5 267.7l2.30 4.80h-4.60zM276.1 256.0l2.30 4.80h-4.60zM277.9 268.8l2.30 4.80h-4.60zM284.9 265.3l2.30 4.80h-4.60zM289.6 263.0l2.30 4.80h-4.60zM293.1 256.6l2.30 4.80h-4.60zM266.2 275.3l2.30 4.80h-4.60zM274.4 278.9l2.30 4.80h-4.60zM236.4 285.3l2.30 4.80h-4.60zM217.8 290.0l2.30 4.80h-4.60zM290.2 287.1l2.30 4.80h-4.60zM293.7 293.5l2.30 4.80h-4.60zM265.1 294.6l2.30 4.80h-4.60zM207.8 272.5l2.30 4.80h-4.60zM212.5 267.2l2.30 4.80h-4.60zM213.7 283.5l2.30 4.80h-4.60zM203.2 287.6l2.30 4.80h-4.60zM207.2 287.6l2.30 4.80h-4.60zM197.9 283.5l2.30 4.80h-4.60zM211.9 297.0l2.30 4.80h-4.60zM201.4 296.4l2.30 4.80h-4.60zM135.4 302.1l2.30 4.80h-4.60zM136.0 316.1l2.30 4.80h-4.60zM376.0 324.3l2.30 4.80h-4.60zM376.0 278.8l2.30 4.80h-4.60zM296.6 264.2l2.30 4.80h-4.60z" fill="#ba1a1e" stroke="#ba1a1e" stroke-width="0.9" stroke-linejoin="round"/>
<line x1="84.3" y1="348.2" x2="620.4" y2="58.6" stroke="#000" stroke-opacity="0.55" stroke-width="1.85" stroke-dasharray="6.2 2.8"/>
<line x1="84.3" y1="291.6" x2="620.4" y2="100.1" stroke="#2b2b2b" stroke-width="3.3" stroke-linecap="square"/>
<line x1="84.3" y1="291.6" x2="620.4" y2="100.1" stroke="#ef8a26" stroke-width="2.1" stroke-linecap="square"/>
<line x1="84.3" y1="287.0" x2="620.4" y2="329.1" stroke="#1a1a1a" stroke-width="3.7" stroke-linecap="square"/>
<line x1="84.3" y1="287.0" x2="620.4" y2="329.1" stroke="#c4171c" stroke-width="1.9" stroke-linecap="square"/>
<path d="M56.0 0.0V372.7H680.9" fill="none" stroke="#7c7c7c" stroke-width="1.75" stroke-linejoin="miter"/>
<path d="M55.1 0.9H680.9" fill="none" stroke="#7c7c7c" stroke-width="1.8"/>
<path d="M680.1 0V373.6" fill="none" stroke="#555" stroke-width="1.5"/>
<line x1="178.9" y1="372.7" x2="178.9" y2="376.7" stroke="#444" stroke-width="1.2"/>
<text x="172.9" y="394.8" font-size="20.2" textLength="11.8" lengthAdjust="spacingAndGlyphs" fill="#222">2</text>
<line x1="305.1" y1="372.7" x2="305.1" y2="376.7" stroke="#444" stroke-width="1.2"/>
<text x="299.1" y="394.8" font-size="20.2" textLength="11.8" lengthAdjust="spacingAndGlyphs" fill="#222">4</text>
<line x1="431.2" y1="372.7" x2="431.2" y2="376.7" stroke="#444" stroke-width="1.2"/>
<text x="425.2" y="394.8" font-size="20.2" textLength="11.8" lengthAdjust="spacingAndGlyphs" fill="#222">6</text>
<line x1="557.4" y1="372.7" x2="557.4" y2="376.7" stroke="#444" stroke-width="1.2"/>
<text x="551.4" y="394.8" font-size="20.2" textLength="11.8" lengthAdjust="spacingAndGlyphs" fill="#222">8</text>
<line x1="52.0" y1="365.4" x2="56.0" y2="365.4" stroke="#555" stroke-width="1.3"/>
<text x="38.3" y="372.3" font-size="20.2" textLength="11.6" lengthAdjust="spacingAndGlyphs" fill="#222">0</text>
<line x1="52.0" y1="297.3" x2="56.0" y2="297.3" stroke="#555" stroke-width="1.3"/>
<text x="38.3" y="304.2" font-size="20.2" textLength="11.6" lengthAdjust="spacingAndGlyphs" fill="#222">2</text>
<line x1="52.0" y1="229.2" x2="56.0" y2="229.2" stroke="#555" stroke-width="1.3"/>
<text x="38.3" y="236.1" font-size="20.2" textLength="11.6" lengthAdjust="spacingAndGlyphs" fill="#222">4</text>
<line x1="52.0" y1="161.2" x2="56.0" y2="161.2" stroke="#555" stroke-width="1.3"/>
<text x="38.3" y="168.1" font-size="20.2" textLength="11.6" lengthAdjust="spacingAndGlyphs" fill="#222">6</text>
<line x1="52.0" y1="93.1" x2="56.0" y2="93.1" stroke="#555" stroke-width="1.3"/>
<text x="38.3" y="100.0" font-size="20.2" textLength="11.6" lengthAdjust="spacingAndGlyphs" fill="#222">8</text>
<line x1="52.0" y1="25.0" x2="56.0" y2="25.0" stroke="#555" stroke-width="1.3"/>
<text x="26.7" y="31.9" font-size="20.2" textLength="23.2" lengthAdjust="spacingAndGlyphs" fill="#222">10</text>
<text transform="translate(20.3,366) rotate(-90)" font-size="25" font-weight="bold" textLength="353.4" lengthAdjust="spacingAndGlyphs" fill="#111">Model Aerosol Layer Height (km)</text>
<text x="234.6" y="417.7" font-size="22" font-weight="bold" textLength="227.4" lengthAdjust="spacingAndGlyphs" fill="#111">TROPOMI AOCH (km)</text>
<rect x="63.8" y="8.8" width="160" height="73.5" rx="2.6" fill="#fff" fill-opacity="0.8" stroke="#d2d2d2" stroke-width="1"/>
<circle cx="85.7" cy="22.8" r="2.9" fill="#ef8a26"/>
<path d="M85.7 43.2l3.1 5.8h-6.2z" fill="#ba1a1e"/>
<line x1="70.2" y1="68" x2="101.7" y2="68" stroke="#000" stroke-opacity="0.5" stroke-width="1.6" stroke-dasharray="6.2 2.8"/>
<text x="115.4" y="27.7" font-size="15.8" textLength="79.2" lengthAdjust="spacingAndGlyphs" fill="#222">RAP-Chem</text>
<text x="115.4" y="50.2" font-size="15.8" textLength="101.1" lengthAdjust="spacingAndGlyphs" fill="#222">MOMO-Chem</text>
<text x="115.4" y="73" font-size="15.8" textLength="57" lengthAdjust="spacingAndGlyphs" fill="#222">1-1 line</text>
<text x="231.3" y="41.9" font-size="20.5" font-weight="bold" textLength="16" lengthAdjust="spacingAndGlyphs" fill="#111">a)</text>
<text x="72" y="123.6" font-size="20.5" font-weight="bold" fill="#111">r<tspan font-size="13" dy="-6.5" dx="0.6">2</tspan><tspan dy="6.5" dx="0.6">:</tspan></text>
<text x="71.6" y="153.3" font-size="20.6" textLength="43" lengthAdjust="spacingAndGlyphs" fill="#e3721f" stroke="#e3721f" stroke-width="0.7">0.54</text>
<text x="71.6" y="183.5" font-size="20.6" textLength="43" lengthAdjust="spacingAndGlyphs" fill="#e0191e" stroke="#e0191e" stroke-width="0.7">0.13</text>
</g>
<g id="bottom">
<path d="M188.3 665.7h.01M181.0 677.7h.01M214.3 647.0h.01M228.1 650.0h.01M264.5 654.7h.01M263.3 658.2h.01M293.2 649.3h.01M286.5 685.5h.01M294.2 695.6h.01M240.0 699.1h.01M249.8 706.6h.01M196.5 724.1h.01M229.9 719.4h.01M243.2 728.3h.01M287.9 729.9h.01M262.6 735.8h.01M288.8 740.4h.01M208.9 742.3h.01M212.2 745.8h.01M227.4 751.2h.01M262.2 752.4h.01M161.7 751.4h.01M198.4 755.4h.01M192.6 758.0h.01M186.7 761.5h.01M151.7 763.3h.01M183.7 769.9h.01M190.0 776.2h.01M244.4 773.1h.01M167.3 794.4h.01M221.5 793.0h.01M287.6 596.8h.01M277.3 626.2h.01M452.3 519.7h.01M421.0 525.8h.01M367.5 556.4h.01M403.5 570.4h.01M391.1 579.5h.01M314.5 609.6h.01M332.7 611.0h.01M313.3 619.0h.01M339.9 624.4h.01M306.3 633.0h.01M323.1 634.9h.01M406.8 585.7h.01M415.9 586.6h.01M406.3 591.3h.01M411.5 594.6h.01M387.9 596.4h.01M375.3 599.4h.01M381.1 600.3h.01M369.9 600.9h.01M403.1 599.1h.01M414.7 601.5h.01M377.6 605.3h.01M366.3 605.8h.01M362.2 606.9h.01M351.6 606.2h.01M393.4 608.8h.01M382.9 610.9h.01M408.3 605.0h.01M404.2 608.1h.01M412.4 606.7h.01M417.1 606.1h.01M362.0 612.6h.01M357.2 615.8h.01M360.1 617.5h.01M398.6 612.8h.01M407.7 613.7h.01M414.2 613.1h.01M389.1 616.1h.01M393.1 617.2h.01M381.5 621.0h.01M398.0 621.3h.01M401.3 624.0h.01M411.9 621.0h.01M365.9 625.4h.01M369.0 624.5h.01M393.4 626.3h.01M394.3 630.1h.01M398.0 630.9h.01M402.5 631.2h.01M352.8 632.4h.01M376.0 634.2h.01M379.7 635.1h.01M358.7 637.1h.01M394.3 635.7h.01M398.4 637.1h.01M385.0 637.7h.01M456.2 561.8h.01M446.9 568.2h.01M450.6 568.4h.01M456.8 571.3h.01M463.2 569.6h.01M476.9 568.8h.01M483.6 564.7h.01M487.7 564.1h.01M486.0 568.2h.01M477.5 574.2h.01M487.7 576.6h.01M496.5 569.9h.01M422.1 581.3h.01M423.5 585.1h.01M436.6 583.1h.01M449.8 582.2h.01M450.6 585.1h.01M458.0 579.3h.01M473.7 579.9h.01M477.8 580.4h.01M482.5 579.3h.01M474.9 583.9h.01M480.1 583.4h.01M467.3 585.1h.01M487.2 585.7h.01M494.7 585.1h.01M421.8 588.0h.01M426.4 588.6h.01M435.8 587.4h.01M428.8 593.3h.01M432.8 595.0h.01M444.5 588.0h.01M446.3 592.1h.01M442.8 594.5h.01M450.9 595.0h.01M458.5 591.5h.01M458.5 595.0h.01M468.5 589.2h.01M466.7 592.1h.01M471.4 593.9h.01M476.1 590.9h.01M479.0 592.1h.01M473.7 596.2h.01M494.7 591.5h.01M493.0 597.4h.01M493.8 600.3h.01M437.5 600.3h.01M440.4 601.5h.01M424.7 604.4h.01M425.8 608.5h.01M438.7 605.0h.01M441.6 609.1h.01M453.9 604.4h.01M460.9 599.7h.01M461.5 603.8h.01M467.9 600.9h.01M472.0 599.7h.01M472.6 603.2h.01M466.7 605.0h.01M462.6 606.7h.01M481.3 606.1h.01M478.4 609.1h.01M496.5 606.1h.01M429.9 611.4h.01M444.5 608.5h.01M445.1 612.6h.01M456.8 610.2h.01M450.9 613.7h.01M453.3 617.2h.01M446.3 616.6h.01M424.1 617.2h.01M421.8 619.6h.01M438.1 619.0h.01M440.4 621.9h.01M464.4 612.6h.01M471.4 610.2h.01M468.5 614.9h.01M461.5 616.1h.01M484.2 613.1h.01M459.1 619.6h.01M456.2 621.9h.01M443.4 623.6h.01M449.2 623.6h.01M422.3 627.2h.01M427.0 630.1h.01M436.4 634.7h.01M469.6 627.2h.01M480.7 623.1h.01M487.2 618.4h.01M490.1 620.7h.01M494.7 623.6h.01M492.4 616.1h.01M497.1 614.9h.01M483.6 630.7h.01M489.5 630.1h.01M466.1 634.7h.01M442.2 635.9h.01M445.1 638.2h.01M431.1 638.2h.01M488.9 634.7h.01M491.2 636.5h.01M494.7 634.7h.01M508.8 561.8h.01M504.4 567.0h.01M526.9 565.8h.01M531.8 568.4h.01M539.7 566.4h.01M551.7 562.3h.01M563.9 565.5h.01M560.5 570.7h.01M554.3 574.2h.01M518.3 572.3h.01M520.4 577.8h.01M511.1 582.0h.01M513.8 585.7h.01M504.9 583.9h.01M504.1 588.6h.01M523.4 585.7h.01M527.4 586.9h.01M533.1 589.8h.01M540.9 590.4h.01M550.5 592.7h.01M544.1 595.0h.01M538.0 594.5h.01M558.7 587.1h.01M564.2 587.4h.01M501.8 592.7h.01M502.9 596.8h.01M504.1 599.7h.01M522.8 598.5h.01M530.1 600.3h.01M523.4 602.6h.01M530.6 605.0h.01M518.7 607.9h.01M506.4 609.1h.01M515.2 613.7h.01M507.9 614.3h.01M530.4 613.7h.01M541.8 619.8h.01M531.3 622.5h.01M523.7 624.2h.01M525.9 631.8h.01M505.3 632.6h.01M510.3 634.5h.01M523.1 638.5h.01M501.8 637.7h.01M570.9 612.2h.01M567.4 619.8h.01M559.8 625.4h.01M568.2 558.4h.01M598.1 565.4h.01M638.9 572.8h.01M621.6 579.7h.01M640.8 586.6h.01M600.3 589.0h.01M586.9 593.6h.01M668.2 600.3h.01M596.4 602.9h.01M367.1 644.4h.01M388.5 643.2h.01M378.5 642.6h.01M402.5 642.3h.01M346.8 648.2h.01M353.4 650.3h.01M343.9 652.3h.01M365.9 653.2h.01M382.3 648.4h.01M379.4 653.8h.01M399.0 652.3h.01M404.0 649.3h.01M347.2 658.5h.01M350.5 658.7h.01M358.3 657.8h.01M370.9 657.8h.01M417.7 656.4h.01M414.7 659.3h.01M348.4 665.9h.01M361.6 669.2h.01M384.4 665.7h.01M390.5 666.9h.01M381.5 670.1h.01M371.8 672.5h.01M376.0 673.3h.01M404.2 663.6h.01M407.2 663.9h.01M408.0 669.8h.01M352.8 677.0h.01M358.1 677.0h.01M366.3 680.1h.01M387.9 678.0h.01M378.0 682.9h.01M362.2 684.4h.01M408.7 679.7h.01M404.8 681.1h.01M409.5 688.2h.01M352.8 692.1h.01M393.5 694.3h.01M407.2 699.6h.01M374.1 702.8h.01M359.5 705.6h.01M372.7 708.9h.01M392.2 707.4h.01M394.7 712.6h.01M380.6 718.5h.01M493.0 642.6h.01M451.3 644.1h.01M460.3 643.5h.01M466.7 644.9h.01M484.8 646.4h.01M481.9 650.3h.01M492.6 651.7h.01M497.7 652.8h.01M445.9 649.6h.01M453.9 647.6h.01M456.8 649.9h.01M463.8 648.2h.01M469.1 648.8h.01M470.8 651.7h.01M449.2 652.8h.01M452.1 654.6h.01M458.5 653.4h.01M462.6 652.3h.01M466.1 654.0h.01M446.9 658.1h.01M458.0 658.1h.01M464.4 658.7h.01M467.9 658.1h.01M463.8 661.3h.01M480.1 658.5h.01M483.6 657.5h.01M439.9 661.6h.01M449.2 663.4h.01M452.1 661.6h.01M439.9 667.1h.01M454.1 666.6h.01M459.4 667.1h.01M467.3 665.1h.01M469.6 668.6h.01M474.9 665.1h.01M484.2 664.5h.01M482.5 669.8h.01M428.8 672.7h.01M450.4 675.4h.01M443.4 677.6h.01M473.7 675.6h.01M492.4 675.0h.01M497.7 680.3h.01M460.6 681.5h.01M480.1 683.2h.01M483.1 684.4h.01M487.2 683.2h.01M439.0 686.1h.01M454.2 687.3h.01M445.1 689.3h.01M448.0 691.4h.01M461.5 689.1h.01M454.7 693.7h.01M489.1 690.5h.01M483.6 693.4h.01M451.5 700.7h.01M423.5 704.5h.01M457.1 709.3h.01M502.6 642.3h.01M505.3 646.4h.01M514.6 644.7h.01M512.6 647.2h.01M538.5 647.0h.01M547.3 647.2h.01M548.1 651.7h.01M504.1 651.1h.01M505.3 655.2h.01M512.3 654.9h.01M536.6 655.4h.01M513.8 662.0h.01M524.5 660.4h.01M523.7 664.9h.01M529.2 664.9h.01M527.8 670.1h.01M540.9 668.8h.01M548.7 674.1h.01M507.9 676.2h.01M550.2 685.0h.01M528.3 687.3h.01M510.7 692.0h.01M554.3 693.1h.01M580.1 665.1h.01M635.9 657.3h.01M640.2 680.1h.01M320.6 692.8h.01M314.5 710.6h.01M307.5 712.7h.01M369.4 722.9h.01M319.6 724.6h.01M387.6 726.4h.01M400.9 726.4h.01M407.4 730.6h.01M420.5 729.9h.01M325.2 734.8h.01M370.3 734.8h.01M367.0 739.3h.01M350.0 740.7h.01M355.4 742.3h.01M360.0 744.9h.01M329.7 742.3h.01M427.1 738.6h.01M400.4 745.6h.01M327.6 758.0h.01M318.5 771.3h.01M295.4 641.0h.01M310.0 657.1h.01M314.9 654.8h.01M298.0 663.8h.01M301.5 672.0h.01M306.7 674.9h.01M316.6 685.4h.01M326.6 683.6h.01M482.2 499.9h.01M499.8 499.3h.01M468.2 528.2h.01M469.9 537.5h.01M498.2 534.0h.01M508.7 544.2h.01M526.9 553.6h.01M530.1 553.9h.01M495.6 557.7h.01M511.4 557.7h.01M515.5 557.1h.01M297.9 752.4h.01M299.5 615.9h.01M420.0 595.0h.01M368.6 639.4h.01M412.4 639.4h.01M499.4 584.5h.01M499.4 631.2h.01M485.4 639.4h.01M473.7 640.0h.01M540.3 640.0h.01M582.7 605.9h.01M606.4 627.2h.01M340.0 665.1h.01M500.0 661.6h.01M478.4 720.0h.01M560.0 724.5h.01M302.3 705.2h.01M303.2 620.0h.01M606.5 631.6h.01" stroke="#ef8a26" stroke-width="5.8" stroke-linecap="round" fill="none"/>
<path d="M353.0 591.4l2.70 5.20h-5.40zM439.2 561.7l2.70 5.20h-5.40zM451.1 560.8l2.70 5.20h-5.40zM447.9 598.2l2.70 5.20h-5.40zM454.2 632.0l2.70 5.20h-5.40zM384.4 595.4l2.70 5.20h-5.40zM404.6 594.8l2.70 5.20h-5.40zM498.2 569.1l2.70 5.20h-5.40zM460.6 578.2l2.70 5.20h-5.40zM489.8 586.0l2.70 5.20h-5.40zM482.7 592.2l2.70 5.20h-5.40zM485.1 598.9l2.70 5.20h-5.40zM489.1 608.4l2.70 5.20h-5.40zM507.8 573.8l2.70 5.20h-5.40zM558.6 572.3l2.70 5.20h-5.40zM524.2 607.9l2.70 5.20h-5.40zM527.7 606.7l2.70 5.20h-5.40zM508.8 616.4l2.70 5.20h-5.40zM598.1 513.6l2.70 5.20h-5.40zM381.5 640.3l2.70 5.20h-5.40zM360.7 684.5l2.70 5.20h-5.40zM482.7 659.0l2.70 5.20h-5.40zM495.9 674.5l2.70 5.20h-5.40zM459.8 544.4l2.70 5.20h-5.40z" fill="#ba1a1e" stroke="#ba1a1e" stroke-width="0.9" stroke-linejoin="round"/>
<line x1="101.5" y1="788.9" x2="617.8" y2="481.0" stroke="#000" stroke-opacity="0.55" stroke-width="1.85" stroke-dasharray="6.2 2.8"/>
<line x1="101.5" y1="770.4" x2="617.8" y2="561.0" stroke="#2b2b2b" stroke-width="3.4" stroke-linecap="square"/>
<line x1="101.5" y1="770.4" x2="617.8" y2="561.0" stroke="#ef8a26" stroke-width="2.3" stroke-linecap="square"/>
<rect x="60.4" y="444.4" width="619.5" height="369.0" fill="none" stroke="#222" stroke-width="1.1"/>
<line x1="60.2" y1="813.4" x2="60.2" y2="817.3" stroke="#333" stroke-width="1.3"/>
<line x1="56.5" y1="813.5" x2="60.4" y2="813.5" stroke="#333" stroke-width="1.3"/>
<text x="54.3" y="834.3" font-size="20.2" textLength="11.8" lengthAdjust="spacingAndGlyphs" fill="#222">0</text>
<text x="39.2" y="819.4" font-size="20.2" textLength="11.8" lengthAdjust="spacingAndGlyphs" fill="#222">0</text>
<line x1="142.8" y1="813.4" x2="142.8" y2="817.3" stroke="#333" stroke-width="1.3"/>
<line x1="56.5" y1="764.2" x2="60.4" y2="764.2" stroke="#333" stroke-width="1.3"/>
<text x="128.5" y="834.3" font-size="20.2" textLength="29.9" lengthAdjust="spacingAndGlyphs" fill="#222">0.2</text>
<text x="23.3" y="770.1" font-size="20.2" textLength="29.9" lengthAdjust="spacingAndGlyphs" fill="#222">0.2</text>
<line x1="225.4" y1="813.4" x2="225.4" y2="817.3" stroke="#333" stroke-width="1.3"/>
<line x1="56.5" y1="715.0" x2="60.4" y2="715.0" stroke="#333" stroke-width="1.3"/>
<text x="211.1" y="834.3" font-size="20.2" textLength="29.9" lengthAdjust="spacingAndGlyphs" fill="#222">0.4</text>
<text x="23.3" y="720.9" font-size="20.2" textLength="29.9" lengthAdjust="spacingAndGlyphs" fill="#222">0.4</text>
<line x1="308.0" y1="813.4" x2="308.0" y2="817.3" stroke="#333" stroke-width="1.3"/>
<line x1="56.5" y1="665.7" x2="60.4" y2="665.7" stroke="#333" stroke-width="1.3"/>
<text x="293.7" y="834.3" font-size="20.2" textLength="29.9" lengthAdjust="spacingAndGlyphs" fill="#222">0.6</text>
<text x="23.3" y="671.6" font-size="20.2" textLength="29.9" lengthAdjust="spacingAndGlyphs" fill="#222">0.6</text>
<line x1="390.6" y1="813.4" x2="390.6" y2="817.3" stroke="#333" stroke-width="1.3"/>
<line x1="56.5" y1="616.5" x2="60.4" y2="616.5" stroke="#333" stroke-width="1.3"/>
<text x="376.3" y="834.3" font-size="20.2" textLength="29.9" lengthAdjust="spacingAndGlyphs" fill="#222">0.8</text>
<text x="23.3" y="622.4" font-size="20.2" textLength="29.9" lengthAdjust="spacingAndGlyphs" fill="#222">0.8</text>
<line x1="473.2" y1="813.4" x2="473.2" y2="817.3" stroke="#333" stroke-width="1.3"/>
<line x1="56.5" y1="567.2" x2="60.4" y2="567.2" stroke="#333" stroke-width="1.3"/>
<text x="458.9" y="834.3" font-size="20.2" textLength="29.9" lengthAdjust="spacingAndGlyphs" fill="#222">1.0</text>
<text x="23.3" y="573.1" font-size="20.2" textLength="29.9" lengthAdjust="spacingAndGlyphs" fill="#222">1.0</text>
<line x1="555.8" y1="813.4" x2="555.8" y2="817.3" stroke="#333" stroke-width="1.3"/>
<line x1="56.5" y1="517.9" x2="60.4" y2="517.9" stroke="#333" stroke-width="1.3"/>
<text x="541.5" y="834.3" font-size="20.2" textLength="29.9" lengthAdjust="spacingAndGlyphs" fill="#222">1.2</text>
<text x="23.3" y="523.8" font-size="20.2" textLength="29.9" lengthAdjust="spacingAndGlyphs" fill="#222">1.2</text>
<line x1="638.4" y1="813.4" x2="638.4" y2="817.3" stroke="#333" stroke-width="1.3"/>
<line x1="56.5" y1="468.7" x2="60.4" y2="468.7" stroke="#333" stroke-width="1.3"/>
<text x="624.1" y="834.3" font-size="20.2" textLength="29.9" lengthAdjust="spacingAndGlyphs" fill="#222">1.4</text>
<text x="23.3" y="474.6" font-size="20.2" textLength="29.9" lengthAdjust="spacingAndGlyphs" fill="#222">1.4</text>
<text transform="translate(18,775.3) rotate(-90)" font-size="22" font-weight="bold" textLength="294.6" lengthAdjust="spacingAndGlyphs" fill="#111">Model CrIS/TROPOMI Ratio</text>
<text x="239.6" y="857.2" font-size="22" font-weight="bold" textLength="220.2" lengthAdjust="spacingAndGlyphs" fill="#111">CrIS/TROPOMI Ratio</text>
<rect x="68.5" y="452.3" width="158" height="73" rx="2.6" fill="#fff" fill-opacity="0.8" stroke="#d2d2d2" stroke-width="1"/>
<circle cx="90" cy="466.4" r="2.9" fill="#ef8a26"/>
<path d="M90 486.1l3.5 6.8h-7z" fill="#ba1a1e"/>
<line x1="74" y1="510.5" x2="105.5" y2="510.5" stroke="#000" stroke-opacity="0.5" stroke-width="1.6" stroke-dasharray="6.2 2.8"/>
<text x="119" y="471" font-size="15.8" textLength="79.2" lengthAdjust="spacingAndGlyphs" fill="#222">RAP-Chem</text>
<text x="119" y="493.5" font-size="15.8" textLength="101.1" lengthAdjust="spacingAndGlyphs" fill="#222">MOMO-Chem</text>
<text x="119" y="516" font-size="15.8" textLength="57" lengthAdjust="spacingAndGlyphs" fill="#222">1-1 line</text>
<text x="236" y="476.5" font-size="20.5" font-weight="bold" textLength="17" lengthAdjust="spacingAndGlyphs" fill="#111">b)</text>
<text x="77.8" y="562.9" font-size="20.5" font-weight="bold" fill="#111">r<tspan font-size="13" dy="-6.5" dx="0.6">2</tspan><tspan dy="6.5" dx="0.6">:</tspan></text>
<text x="77.8" y="592.5" font-size="20.6" textLength="42.5" lengthAdjust="spacingAndGlyphs" fill="#e3721f" stroke="#e3721f" stroke-width="0.7">0.37</text>
<text x="77.8" y="622.5" font-size="20.6" textLength="54.2" lengthAdjust="spacingAndGlyphs" fill="#e0191e" stroke="#e0191e" stroke-width="0.7">0.004</text>
</g>
</svg></body></html>
